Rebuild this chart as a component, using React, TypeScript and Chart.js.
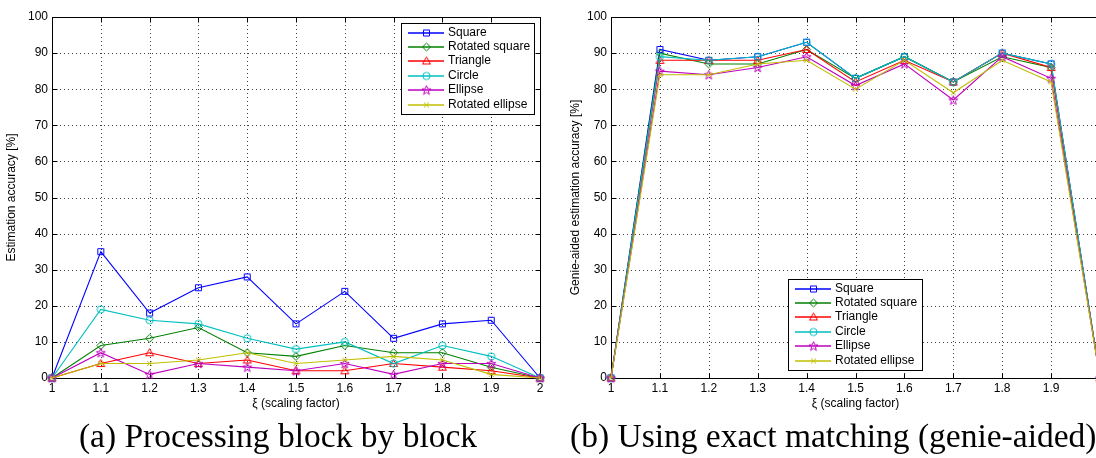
import React, { useEffect, useRef } from 'react';
import { Chart, registerables } from 'chart.js';

Chart.register(...registerables);

// ---------- data ----------
const categories = ['1', '1.1', '1.2', '1.3', '1.4', '1.5', '1.6', '1.7', '1.8', '1.9', '2'];
const yMin = 0;
const yMax = 100;
const yStep = 10;

const seriesNames = ['Square', 'Rotated square', 'Triangle', 'Circle', 'Ellipse', 'Rotated ellipse'];
const seriesColors = ['#0000ff', '#008000', '#ff0000', '#00bfbf', '#bf00bf', '#bfbf00'];
const seriesMarkers = ['square', 'diamond', 'triangle', 'circle', 'star', 'x'];

// (a) Processing block by block
const blockSquare = [0, 35, 18, 25, 28, 15, 24, 11, 15, 16, 0];
const blockRotatedSquare = [0, 9, 11, 14, 7, 6, 9, 7, 7, 3, 0];
const blockTriangle = [0, 4, 7, 4, 5, 2, 2, 4, 3, 2, 0];
const blockCircle = [0, 19, 16, 15, 11, 8, 10, 4, 9, 6, 0];
const blockEllipse = [0, 7, 1, 4, 3, 2, 4, 1, 4, 4, 0];
const blockRotatedEllipse = [0, 4, 4, 5, 7, 4, 5, 6, 5, 1, 0];

// (b) Using exact matching (genie-aided)
const genieSquare = [0, 91, 88, 89, 93, 83, 89, 82, 90, 87, 0];
const genieRotatedSquare = [0, 90, 87, 87, 91, 83, 89, 82, 89, 86, 0];
const genieTriangle = [0, 88, 88, 88, 91, 82, 88, 82, 90, 86, 0];
const genieCircle = [0, 89, 88, 89, 93, 83, 89, 82, 90, 87, 0];
const genieEllipse = [0, 85, 84, 86, 89, 81, 87, 77, 89, 83, 0];
const genieRotatedEllipse = [0, 84, 84, 87, 88, 80, 88, 79, 88, 82, 0];

const blockSeries = [blockSquare, blockRotatedSquare, blockTriangle, blockCircle, blockEllipse, blockRotatedEllipse];
const genieSeries = [genieSquare, genieRotatedSquare, genieTriangle, genieCircle, genieEllipse, genieRotatedEllipse];

const xTitle = 'ξ (scaling factor)';
const yTitleA = 'Estimation accuracy [%]';
const yTitleB = 'Genie-aided estimation accuracy [%]';
const captionA = '(a) Processing block by block';
const captionB = '(b) Using exact matching (genie-aided)';

const SANS = '"Liberation Sans", Arial, Helvetica, sans-serif';
const SERIF = '"Liberation Serif", "DejaVu Serif", serif';

// ---------- markers ----------
function makeMarker(kind: string, color: string): HTMLCanvasElement {
  const c = document.createElement('canvas');
  c.width = 11;
  c.height = 11;
  const g = c.getContext('2d')!;
  g.strokeStyle = color;
  g.fillStyle = color;
  g.lineWidth = 1;
  g.beginPath();
  const cx = 5.5;
  const cy = 5.5;
  if (kind === 'square') {
    g.rect(2.5, 2.5, 6, 6);
  } else if (kind === 'diamond') {
    g.moveTo(cx, 1.5); g.lineTo(9.5, cy); g.lineTo(cx, 9.5); g.lineTo(1.5, cy); g.closePath();
  } else if (kind === 'triangle') {
    g.moveTo(cx, 1.5); g.lineTo(9.5, 8.5); g.lineTo(1.5, 8.5); g.closePath();
  } else if (kind === 'circle') {
    g.arc(cx, cy, 3.6, 0, Math.PI * 2);
  } else if (kind === 'star') {
    for (let i = 0; i < 10; i++) {
      const r = i % 2 === 0 ? 4.8 : 2.0;
      const a = -Math.PI / 2 + (i * Math.PI) / 5;
      const px = cx + r * Math.cos(a);
      const py = cy + 0.4 + r * Math.sin(a);
      if (i === 0) g.moveTo(px, py); else g.lineTo(px, py);
    }
    g.closePath();
  } else {
    g.moveTo(3, 3); g.lineTo(8, 8); g.moveTo(8, 3); g.lineTo(3, 8);
  }
  g.stroke();
  return c;
}

type LegendBox = { left: number; top: number; width: number; height: number };

function makePlugins(legend: LegendBox, markers: HTMLCanvasElement[]) {
  return [
    {
      id: 'matlabGrid',
      beforeDatasetsDraw(chart: any) {
        const { ctx, chartArea: a, scales } = chart;
        const x = scales.x;
        const y = scales.y;
        ctx.save();
        ctx.strokeStyle = '#404040';
        ctx.lineWidth = 1;
        ctx.setLineDash([1, 3]);
        x.ticks.forEach((_t: any, i: number) => {
          if (i === 0 || i === x.ticks.length - 1) return;
          const px = Math.round(x.getPixelForTick(i)) + 0.5;
          ctx.beginPath(); ctx.moveTo(px, a.top); ctx.lineTo(px, a.bottom); ctx.stroke();
        });
        y.ticks.forEach((t: any) => {
          if (t.value === yMin || t.value === yMax) return;
          const py = Math.round(y.getPixelForValue(t.value)) + 0.5;
          ctx.beginPath(); ctx.moveTo(a.left, py); ctx.lineTo(a.right, py); ctx.stroke();
        });
        ctx.setLineDash([]);
        ctx.strokeStyle = '#000';
        const L = Math.round(a.left) + 0.5;
        const R = Math.round(a.right) + 0.5;
        const T = Math.round(a.top) + 0.5;
        const B = Math.round(a.bottom) + 0.5;
        ctx.strokeRect(L, T, R - L, B - T);
        const tl = 5;
        ctx.beginPath();
        x.ticks.forEach((_t: any, i: number) => {
          const px = Math.round(x.getPixelForTick(i)) + 0.5;
          ctx.moveTo(px, B); ctx.lineTo(px, B - tl);
          ctx.moveTo(px, T); ctx.lineTo(px, T + tl);
        });
        y.ticks.forEach((t: any) => {
          const py = Math.round(y.getPixelForValue(t.value)) + 0.5;
          ctx.moveTo(L, py); ctx.lineTo(L + tl, py);
          ctx.moveTo(R, py); ctx.lineTo(R - tl, py);
        });
        ctx.stroke();
        ctx.restore();
      },
    },
    {
      id: 'matlabLegend',
      afterDraw(chart: any) {
        const { ctx } = chart;
        ctx.save();
        const { left, top, width, height } = legend;
        ctx.fillStyle = '#fff';
        ctx.fillRect(left + 0.5, top + 0.5, width, height);
        ctx.strokeStyle = '#000';
        ctx.lineWidth = 1;
        ctx.strokeRect(left + 0.5, top + 0.5, width, height);
        ctx.font = `12px ${SANS}`;
        ctx.textBaseline = 'middle';
        ctx.textAlign = 'left';
        const rowH = 14.4;
        chart.data.datasets.forEach((ds: any, i: number) => {
          const cy = Math.round(top + 9.5 + i * rowH);
          ctx.strokeStyle = seriesColors[i];
          ctx.lineWidth = 1.5;
          ctx.beginPath();
          ctx.moveTo(left + 7, cy);
          ctx.lineTo(left + 43, cy);
          ctx.stroke();
          ctx.drawImage(markers[i], left + 20, cy - 5.5);
          ctx.fillStyle = '#000';
          ctx.fillText(ds.label, left + 47, cy);
        });
        ctx.restore();
      },
    },
  ];
}

function buildConfig(series: number[][], yTitle: string, yTitlePad: number, yAxisWidth: number, legend: LegendBox): any {
  const markers = seriesColors.map((c, i) => makeMarker(seriesMarkers[i], c));
  return {
    type: 'line',
    data: {
      labels: categories,
      datasets: series.map((values, i) => ({
        label: seriesNames[i],
        data: values,
        borderColor: seriesColors[i],
        backgroundColor: seriesColors[i],
        borderWidth: 1.1,
        pointStyle: markers[i],
        pointRadius: 4,
        pointHoverRadius: 4,
        tension: 0,
        fill: false,
        clip: false,
        order: series.length - i,
      })),
    },
    options: {
      animation: false,
      responsive: false,
      events: [],
      layout: { padding: { top: 17, right: 20, bottom: 0, left: 0 } },
      plugins: { legend: { display: false }, tooltip: { enabled: false } },
      scales: {
        x: {
          type: 'category',
          offset: false,
          grid: { display: false, drawTicks: false, tickLength: 0 },
          border: { display: false },
          ticks: { color: '#000', font: { family: SANS, size: 12 }, padding: 3, maxRotation: 0, autoSkip: false },
          title: { display: true, text: xTitle, color: '#000', font: { family: SANS, size: 12 }, padding: { top: 0, bottom: 9 } },
          afterFit: (s: any) => { s.height = 42; },
        },
        y: {
          type: 'linear',
          min: yMin,
          max: yMax,
          grid: { display: false, drawTicks: false, tickLength: 0 },
          border: { display: false },
          ticks: { stepSize: yStep, color: '#000', font: { family: SANS, size: 12 }, padding: 4 },
          title: { display: true, text: yTitle, color: '#000', font: { family: SANS, size: 12 }, padding: { top: yTitlePad, bottom: 0 } },
          afterFit: (s: any) => { s.width = yAxisWidth; },
        },
      },
    },
    plugins: makePlugins(legend, markers),
  };
}

function ChartCanvas({ config, left }: { config: () => any; left: number }) {
  const ref = useRef<HTMLCanvasElement | null>(null);
  useEffect(() => {
    if (!ref.current) return;
    const chart = new Chart(ref.current, config());
    return () => chart.destroy();
  }, []);
  return (
    <canvas
      ref={ref}
      width={560}
      height={420}
      style={{ position: 'absolute', left, top: 0, width: 560, height: 420 }}
    />
  );
}

export default function App() {
  return (
    <div
      style={{
        position: 'fixed',
        left: 0,
        top: 0,
        width: 1096,
        height: 458,
        overflow: 'hidden',
        background: '#fff',
      }}
    >
      <ChartCanvas
        left={0}
        config={() => buildConfig(blockSeries, yTitleA, 4, 52, { left: 401, top: 23, width: 133, height: 91 })}
      />
      <ChartCanvas
        left={560}
        config={() => buildConfig(genieSeries, yTitleB, 8, 51, { left: 228, top: 279, width: 134, height: 91 })}
      />
      <div
        style={{
          position: 'absolute',
          left: 0,
          width: 556,
          top: 416,
          lineHeight: '40px',
          textAlign: 'center',
          fontFamily: SERIF,
          fontSize: 33.5,
          whiteSpace: 'nowrap',
          color: '#000',
        }}
      >
        {captionA}
      </div>
      <div
        style={{
          position: 'absolute',
          left: 570,
          top: 416,
          lineHeight: '40px',
          fontFamily: SERIF,
          fontSize: 33.5,
          whiteSpace: 'nowrap',
          color: '#000',
        }}
      >
        {captionB}
      </div>
    </div>
  );
}
